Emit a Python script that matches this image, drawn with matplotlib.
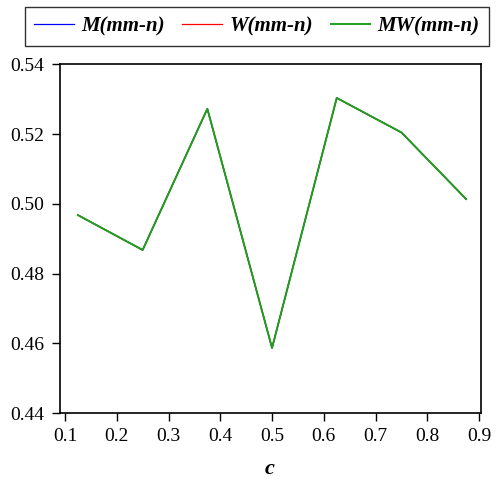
import matplotlib
matplotlib.use('Agg')
from matplotlib import pyplot as plt

c = [0.125, 0.25, 0.375, 0.5, 0.625, 0.75, 0.875]
m_mmn = [0.4968, 0.4868, 0.5273, 0.4587, 0.5304, 0.5205, 0.5014]
w_mmn = [0.4968, 0.4868, 0.5273, 0.4587, 0.5304, 0.5205, 0.5014]
mw_mmn = [0.4968, 0.4868, 0.5273, 0.4587, 0.5304, 0.5205, 0.5014]

x_ticks = [0.1, 0.2, 0.3, 0.4, 0.5, 0.6, 0.7, 0.8, 0.9]
y_ticks = [0.44, 0.46, 0.48, 0.50, 0.52, 0.54]

plt.rcParams['font.family'] = ['Liberation Serif', 'DejaVu Serif']

fig = plt.figure(figsize=(4.96, 4.96), dpi=100)
ax = fig.add_axes([0.12, 0.167, 0.849, 0.703])

ax.plot(c, m_mmn, color='#0000ff', lw=0.9, label='M(mm-n)')
ax.plot(c, w_mmn, color='#ff0000', lw=0.9, label='W(mm-n)')
ax.plot(c, mw_mmn, color='#1ea01e', lw=1.4, label='MW(mm-n)')

ax.set_xlim(0.0894, 0.903)
ax.set_ylim(0.44, 0.54)
ax.set_xticks(x_ticks)
ax.set_xticklabels([f'{v:.1f}' for v in x_ticks])
ax.set_yticks(y_ticks)
ax.set_yticklabels([f'{v:.2f}' for v in y_ticks])
ax.tick_params(direction='out', length=6, width=1, labelsize=14, pad=5)
for s in ax.spines.values():
    s.set_linewidth(1.2)

ax.set_xlabel('c', fontsize=16, fontweight='bold', fontstyle='italic', labelpad=10)

leg = fig.legend(loc='upper left', bbox_to_anchor=(0.05, 0.986), ncol=3,
                 frameon=True, fancybox=False, edgecolor='black', handlelength=1.9,
                 columnspacing=0.85, handletextpad=0.35, borderpad=0.45,
                 borderaxespad=0.0,
                 prop={'size': 15, 'weight': 'bold', 'style': 'italic'})
leg.get_frame().set_linewidth(1.0)

fig.savefig('out.png', dpi=100)
